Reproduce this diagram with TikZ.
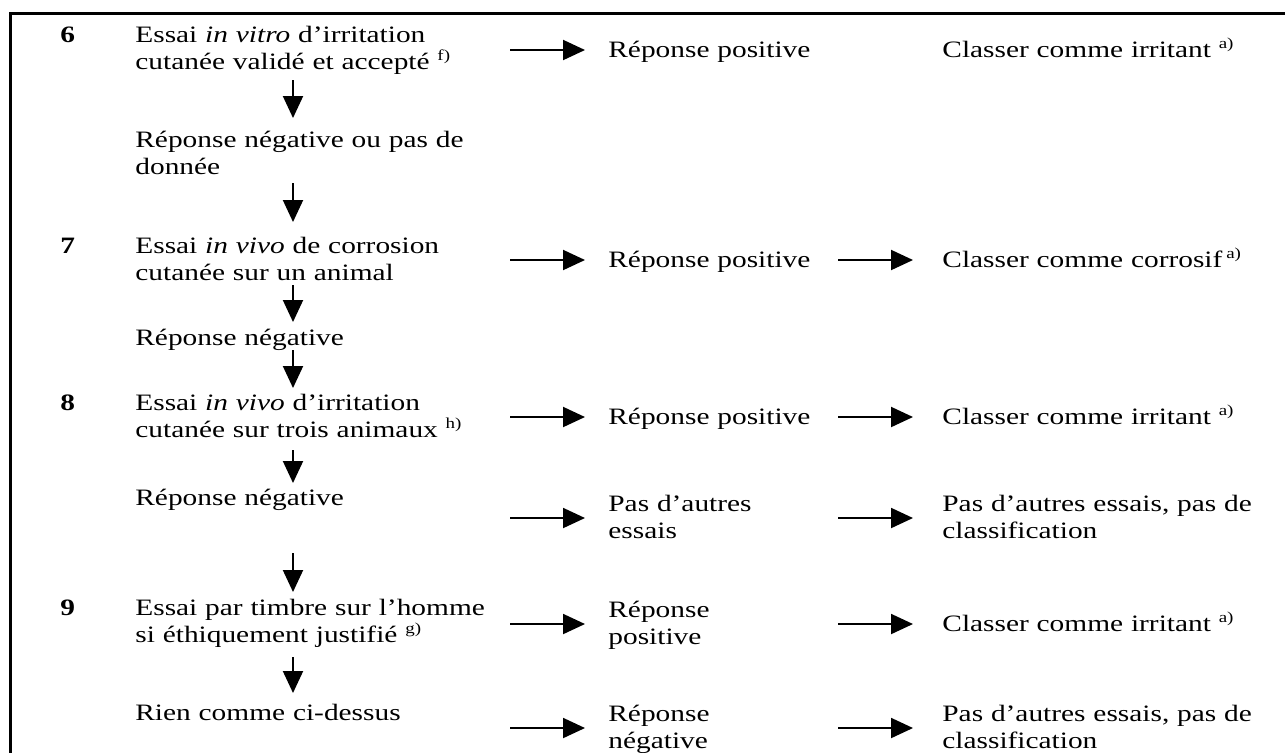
\documentclass[tikz,border=0pt]{standalone}
\usepackage{fontspec}
\setmainfont[FakeStretch=1.25]{Liberation Serif}
\usetikzlibrary{arrows.meta,calc}
% small raised note marks such as f), a)
\newcommand\supnote[1]{\raisebox{0.36em}{\fontsize{7.6pt}{8pt}\selectfont #1}}
\begin{document}
\begin{tikzpicture}[x=0.5pt,y=-0.5pt,
  txt/.style={anchor=base west,inner sep=0pt,align=left,text width=200pt,
    font=\fontsize{11.75pt}{13.5pt}\selectfont},
  num/.style={anchor=base west,inner sep=0pt,font=\fontsize{11.75pt}{13.5pt}\selectfont\bfseries},
  down/.style={line width=1pt,-{Triangle[length=11pt,width=10pt]}},
  fwd/.style={line width=1pt,-{Triangle[length=11pt,width=10pt]}},
  frame/.style={line width=1.5pt}]
\useasboundingbox (0,0) rectangle (1285,752);
\clip (0,0) rectangle (1285,752);
% table frame (top and left rules)
\draw[frame] (10,780) -- (10,13) -- (1310,13);
\coordinate (colx) at (293,0);

% step numbers
\node[num] (n6) at (60,42) {6};
\node[num] (n7) at (60,253) {7};
\node[num] (n8) at (60,410) {8};
\node[num] (n9) at (60,615) {9};

% main column
\node[txt] (t6) at (135,42) {Essai \textit{in vitro} d’irritation\\cutanée validé et accepté \supnote{f)}};
\node[txt] (rn1) at (135,147) {Réponse négative ou pas de\\donnée};
\node[txt] (t7) at (135,253) {Essai \textit{in vivo} de corrosion\\cutanée sur un animal};
\node[txt] (rn2) at (135,345) {Réponse négative};
\node[txt] (t8) at (135,410) {Essai \textit{in vivo} d’irritation\\cutanée sur trois animaux \supnote{h)}};
\node[txt] (rn3) at (135,505) {Réponse négative};
\node[txt] (t9) at (135,615) {Essai par timbre sur l’homme\\si éthiquement justifié \supnote{g)}};
\node[txt] (rien) at (135,720) {Rien comme ci-dessus};

% result column
\node[txt] (rp6) at (608,57) {Réponse positive};
\node[txt] (rp7) at (608,267) {Réponse positive};
\node[txt] (rp8) at (608,424) {Réponse positive};
\node[txt] (pa) at (608,511) {Pas d’autres\\essais};
\node[txt] (rp9) at (608,617) {Réponse\\positive};
\node[txt] (rn) at (608,721) {Réponse\\négative};

% classification column
\node[txt] (c6) at (942,57) {Classer comme irritant \supnote{a)}};
\node[txt] (c7) at (942,267) {Classer comme corrosif\,\supnote{a)}};
\node[txt] (c8) at (942,424) {Classer comme irritant \supnote{a)}};
\node[txt] (pc1) at (942,511) {Pas d’autres essais, pas de\\classification};
\node[txt] (c9) at (942,631) {Classer comme irritant \supnote{a)}};
\node[txt] (pc2) at (942,721) {Pas d’autres essais, pas de\\classification};

% downward flow
\draw[down] ($(t6.base -| colx)+(0,38)$) -- ($(rn1.base -| colx)+(0,-29)$);
\draw[down] ($(rn1.base -| colx)+(0,36)$) -- ($(t7.base -| colx)+(0,-31)$);
\draw[down] ($(t7.base -| colx)+(0,32)$) -- ($(rn2.base -| colx)+(0,-23)$);
\draw[down] ($(rn2.base -| colx)+(0,5)$) -- ($(t8.base -| colx)+(0,-22)$);
\draw[down] ($(t8.base -| colx)+(0,40)$) -- ($(rn3.base -| colx)+(0,-22)$);
\draw[down] ($(rn3.base -| colx)+(0,48)$) -- ($(t9.base -| colx)+(0,-23)$);
\draw[down] ($(t9.base -| colx)+(0,42)$) -- ($(rien.base -| colx)+(0,-27)$);

% arrows to the results
\draw[fwd] ($(rp6.base west)+(-98,-7)$) -- ($(rp6.base west)+(-23,-7)$);
\draw[fwd] ($(rp7.base west)+(-98,-7)$) -- ($(rp7.base west)+(-23,-7)$);
\draw[fwd] ($(rp8.base west)+(-98,-7)$) -- ($(rp8.base west)+(-23,-7)$);
\draw[fwd] ($(pa.base west)+(-98,7)$) -- ($(pa.base west)+(-23,7)$);
\draw[fwd] ($(rp9.base west)+(-98,7)$) -- ($(rp9.base west)+(-23,7)$);
\draw[fwd] ($(rn.base west)+(-98,7)$) -- ($(rn.base west)+(-23,7)$);

% arrows to the classification
\draw[fwd] ($(c7.base west)+(-104,-7)$) -- ($(c7.base west)+(-29,-7)$);
\draw[fwd] ($(c8.base west)+(-104,-7)$) -- ($(c8.base west)+(-29,-7)$);
\draw[fwd] ($(pc1.base west)+(-104,7)$) -- ($(pc1.base west)+(-29,7)$);
\draw[fwd] ($(c9.base west)+(-104,-7)$) -- ($(c9.base west)+(-29,-7)$);
\draw[fwd] ($(pc2.base west)+(-104,7)$) -- ($(pc2.base west)+(-29,7)$);
\end{tikzpicture}
\end{document}
